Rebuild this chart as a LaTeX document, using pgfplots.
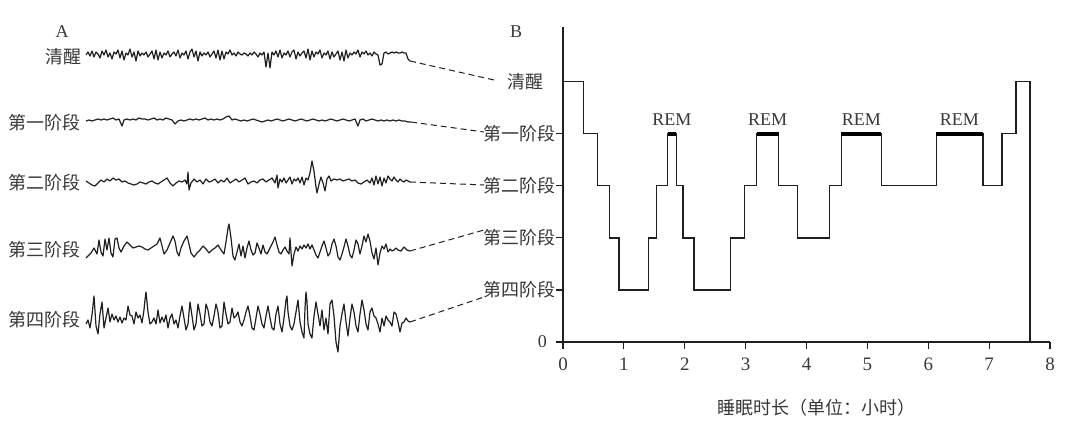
\documentclass[border=0pt]{standalone}
\usepackage{pgfplots}
\pgfplotsset{compat=1.18}
\usepackage{pgfplotstable}
\usepackage{fontspec}
\setmainfont{Liberation Serif}
\newfontfamily\cjk{Noto Sans CJK SC}
\definecolor{ink}{gray}{0.12}
\definecolor{txt}{gray}{0.22}

% EEG traces: x in pixels, v = upward offset in pixels from the trace baseline
\pgfplotstableread[row sep=\\]{x v\\
86 0\\88 3\\90 -1\\92 4\\94 -2\\96 3\\98 1\\100 -3\\102 4\\104 0\\106 5\\108 -2\\110 2\\112 -4\\114 3\\116 1\\118 5\\120 -3\\122 4\\124 -5\\126 2\\128 0\\130 6\\132 -2\\134 3\\136 -6\\138 4\\140 -1\\142 2\\144 0\\146 3\\148 -2\\150 1\\152 4\\154 -4\\156 5\\158 -5\\160 3\\162 -3\\164 2\\166 0\\168 4\\170 -2\\172 1\\174 3\\176 -1\\178 5\\180 -3\\182 2\\184 0\\186 4\\188 -4\\190 3\\192 6\\194 -2\\196 4\\198 -6\\200 3\\202 -1\\204 2\\206 0\\208 3\\210 -2\\212 1\\214 4\\216 -3\\218 5\\220 -5\\222 4\\224 -4\\226 3\\228 1\\230 5\\232 0\\234 2\\236 -1\\238 3\\240 1\\242 0\\244 2\\246 1\\248 -1\\250 2\\252 0\\254 3\\256 1\\258 -2\\260 2\\262 0\\264 3\\266 -12\\268 2\\270 -13\\272 3\\274 0\\276 4\\278 -2\\280 5\\282 -3\\284 2\\286 0\\288 4\\290 -2\\292 3\\294 5\\296 -4\\298 3\\300 -1\\302 2\\304 4\\306 -3\\308 6\\310 -5\\312 4\\314 -2\\316 3\\318 1\\320 5\\322 -3\\324 2\\326 0\\328 4\\330 -4\\332 3\\334 -2\\336 1\\338 4\\340 -5\\342 3\\344 -6\\346 5\\348 -3\\350 2\\352 0\\354 3\\356 1\\358 5\\360 -2\\362 3\\364 1\\366 4\\368 0\\370 2\\372 -1\\374 3\\376 1\\378 0\\380 -10\\382 -9\\384 2\\386 3\\388 1\\390 2\\392 3\\394 2\\396 3\\398 2\\400 2\\402 3\\404 2\\406 2\\408 -4\\410 -6\\
}\wake

\pgfplotstableread[row sep=\\]{x v\\
86 0\\89 1\\92 0\\95 1\\98 2\\101 1\\104 2\\107 1\\110 2\\113 3\\116 1\\119 2\\122 -5\\124 1\\127 2\\130 1\\133 2\\136 1\\139 3\\142 2\\145 2\\148 1\\151 2\\154 3\\157 1\\160 2\\163 1\\166 3\\169 2\\172 1\\175 -3\\178 0\\181 1\\184 0\\187 1\\190 2\\193 1\\196 2\\199 1\\202 2\\205 3\\208 1\\211 2\\214 1\\217 2\\220 1\\223 2\\226 4\\229 5\\232 1\\235 2\\238 1\\241 0\\244 1\\247 0\\250 1\\253 2\\256 1\\259 0\\262 -1\\265 0\\268 1\\271 0\\274 1\\277 2\\280 1\\283 0\\286 1\\289 2\\292 1\\295 0\\298 1\\301 2\\304 1\\307 0\\310 1\\313 2\\316 1\\319 0\\322 1\\325 0\\328 1\\331 2\\334 1\\337 0\\340 1\\343 2\\346 1\\349 0\\352 1\\355 2\\358 -5\\360 1\\363 2\\366 0\\369 1\\372 2\\375 1\\378 0\\381 1\\384 0\\387 1\\390 0\\393 1\\396 0\\399 1\\402 0\\405 0\\408 -1\\411 -1\\
}\stageone

\pgfplotstableread[row sep=\\]{x v\\
86 0\\89 -2\\92 -4\\95 -5\\98 -2\\101 1\\104 -1\\107 2\\110 0\\113 3\\116 1\\119 2\\122 -1\\125 0\\128 -2\\131 -3\\134 -4\\137 -3\\140 -1\\143 -2\\146 -3\\149 -1\\152 0\\155 -2\\158 -3\\161 -1\\164 1\\167 3\\170 -2\\173 -5\\176 -2\\179 0\\182 -1\\185 1\\187 -3\\188 9\\189 -9\\191 -2\\194 2\\197 -1\\200 1\\203 -3\\206 2\\209 -1\\212 0\\215 2\\218 -2\\221 1\\224 -1\\227 3\\230 -2\\233 0\\236 2\\239 -1\\242 1\\245 3\\248 -3\\251 -1\\254 0\\257 -2\\260 1\\263 2\\266 -1\\269 1\\272 3\\275 -2\\277 6\\278 -7\\280 2\\282 -1\\284 3\\286 -2\\288 1\\290 4\\292 -3\\294 2\\296 0\\298 3\\300 -2\\302 4\\304 -4\\306 3\\308 1\\310 8\\312 20\\314 10\\316 -6\\317 -12\\319 -3\\321 4\\323 -2\\325 -10\\327 2\\329 5\\331 0\\334 2\\337 1\\340 2\\343 0\\346 1\\349 2\\352 0\\355 1\\358 -2\\361 -3\\364 -1\\367 1\\370 -2\\372 3\\374 -4\\376 5\\378 -3\\380 4\\382 -5\\384 3\\386 -2\\388 5\\390 2\\392 0\\394 4\\396 1\\398 -1\\400 2\\402 0\\404 -1\\406 1\\408 0\\410 -1\\
}\stagetwo

\pgfplotstableread[row sep=\\]{x v\\
86 -8\\88 -6\\91 -3\\94 2\\97 -4\\99 10\\101 -2\\103 -6\\105 11\\107 0\\109 12\\111 -3\\113 -7\\115 11\\117 12\\119 2\\121 -2\\124 4\\127 8\\130 5\\133 2\\136 3\\139 4\\142 3\\145 1\\148 0\\151 2\\154 4\\157 6\\160 12\\162 4\\164 -4\\167 0\\170 7\\173 14\\175 9\\177 -2\\179 -6\\181 2\\184 9\\187 14\\189 6\\191 -3\\194 -7\\197 -3\\200 0\\203 4\\206 1\\209 -3\\212 0\\215 2\\218 5\\221 0\\224 -4\\226 8\\228 22\\229 26\\231 12\\233 -6\\235 -10\\237 -2\\239 6\\241 -6\\243 4\\245 -8\\247 2\\249 9\\251 0\\253 -5\\255 -3\\257 7\\259 2\\261 -4\\263 5\\265 -2\\267 -4\\270 2\\273 8\\275 13\\277 5\\279 -2\\281 -4\\283 0\\285 3\\287 -1\\289 -4\\290 12\\291 -2\\292 -16\\294 -4\\296 3\\298 -1\\300 4\\302 1\\304 5\\306 2\\308 6\\310 1\\312 5\\314 0\\316 -5\\318 -8\\320 -2\\322 4\\324 9\\326 2\\328 -6\\330 -3\\332 6\\334 11\\336 4\\338 -7\\340 -10\\342 -4\\344 3\\346 11\\348 4\\350 -5\\352 -8\\354 0\\356 10\\358 6\\360 -4\\362 4\\364 14\\366 8\\368 16\\370 9\\372 -3\\374 -9\\376 2\\378 -15\\380 -3\\382 4\\384 1\\386 6\\388 -2\\390 1\\392 -1\\394 0\\396 2\\398 0\\401 -1\\404 3\\407 0\\410 -1\\
}\stagethree

\pgfplotstableread[row sep=\\]{x v\\
86 -4\\88 0\\90 -8\\92 5\\94 24\\96 -6\\98 -14\\100 6\\102 18\\104 -8\\106 2\\108 12\\110 -2\\112 6\\114 0\\116 4\\118 -2\\120 3\\122 -3\\124 2\\126 0\\128 14\\130 5\\132 4\\134 -4\\136 8\\138 2\\140 5\\142 -3\\144 10\\145 20\\146 28\\148 8\\150 -4\\152 -2\\154 2\\156 -4\\158 10\\160 -3\\162 3\\164 -2\\166 5\\168 -8\\170 2\\172 6\\174 -4\\176 0\\178 -8\\180 4\\182 14\\184 2\\186 -10\\188 -4\\190 18\\192 4\\194 -10\\196 -4\\198 16\\200 6\\202 -6\\204 -4\\206 16\\208 10\\210 -2\\212 -6\\214 4\\216 16\\218 8\\220 -8\\222 -6\\224 18\\226 6\\228 -4\\230 -2\\232 12\\234 2\\236 4\\238 8\\240 -2\\242 -6\\244 0\\246 8\\248 14\\250 4\\252 -8\\254 -10\\256 2\\258 14\\260 6\\262 -4\\264 -8\\266 4\\268 14\\270 2\\272 -8\\274 -10\\276 6\\278 14\\280 -4\\282 -12\\284 2\\286 20\\287 24\\288 8\\290 -6\\292 -10\\294 -4\\296 8\\298 20\\300 -2\\302 -12\\304 -18\\305 12\\306 28\\307 18\\308 -4\\310 -14\\312 -18\\314 4\\316 18\\318 6\\320 -6\\322 10\\324 -10\\326 2\\328 -14\\330 16\\332 20\\334 4\\336 -22\\338 -32\\340 -6\\342 6\\344 16\\346 -2\\348 -16\\350 2\\352 16\\354 8\\356 -6\\358 -12\\360 6\\362 20\\364 10\\366 -4\\368 -10\\370 8\\372 12\\374 4\\376 2\\378 -4\\380 -12\\382 2\\384 -6\\386 4\\388 0\\390 -2\\392 -6\\394 8\\396 6\\398 -2\\400 -12\\402 -3\\404 -2\\406 2\\408 -1\\410 -2\\
}\stagefour

\pgfplotsset{
  eeg/.style={ink, line width=0.6pt, line join=round},
  link/.style={ink, line width=0.5pt, dash pattern=on 3pt off 2pt},
}

\begin{document}
\begin{tikzpicture}[font=\fontsize{9}{11}\selectfont]
% ---------- Panel A (pixel-coordinate frame) ----------
\begin{axis}[name=frame, at={(0,0)}, anchor=south west,
  width=540pt, height=211pt, scale only axis,
  xmin=0, xmax=1080, ymin=0, ymax=422, y dir=reverse,
  hide axis, clip=false]
\addplot[eeg] table[x=x, y expr=55-\thisrow{v}] {\wake};
\addplot[eeg] table[x=x, y expr=121-\thisrow{v}] {\stageone};
\addplot[eeg] table[x=x, y expr=181-\thisrow{v}] {\stagetwo};
\addplot[eeg] table[x=x, y expr=250-\thisrow{v}] {\stagethree};
\addplot[eeg] table[x=x, y expr=320-\thisrow{v}] {\stagefour};
\addplot[link] coordinates {(410,61) (494,80)};
\addplot[link] coordinates {(411,122) (484,132)};
\addplot[link] coordinates {(410,182) (484,185)};
\addplot[link] coordinates {(410,251) (484,230)};
\addplot[link] coordinates {(410,322) (484,297)};
\node[txt] at (axis cs:62,32) {A};
\node[txt] at (axis cs:516,32) {B};
\node[txt, anchor=east, inner sep=0pt] at (axis cs:82,57) {\cjk 清醒};
\node[txt, anchor=east, inner sep=0pt] at (axis cs:81,122.5) {\cjk 第一阶段};
\node[txt, anchor=east, inner sep=0pt] at (axis cs:81,183) {\cjk 第二阶段};
\node[txt, anchor=east, inner sep=0pt] at (axis cs:81,250) {\cjk 第三阶段};
\node[txt, anchor=east, inner sep=0pt] at (axis cs:81,320) {\cjk 第四阶段};
\end{axis}
% ---------- Panel B ----------
\begin{axis}[at={(281.5pt,40pt)}, anchor=south west,
  width=243.5pt, height=157.5pt, scale only axis,
  xmin=0, xmax=8, ymin=0, ymax=6.05,
  axis lines=left, axis line style={-, ink, line width=0.6pt},
  tick style={ink, line width=0.6pt},
  tick align=outside, major tick length=3.5pt,
  xtick={0,1,2,3,4,5,6,7,8},
  ytick={0,1,2,3,4},
  yticklabels={0\kern4.5pt,{\cjk 第四阶段},{\cjk 第三阶段},{\cjk 第二阶段},{\cjk 第一阶段}},
  extra y ticks={5},
  extra y tick labels={{\cjk 清醒}},
  extra y tick style={major tick length=0pt, yticklabel style={xshift=-9.5pt}},
  /pgf/number format/assume math mode=true,
  tick label style={txt},
  xticklabel style={yshift=-1pt, font=\fontsize{9.5}{11}\selectfont},
  yticklabel style={xshift=3.5pt},
  xlabel={\cjk 睡眠时长（单位：小时）},
  xlabel style={txt, at={(axis description cs:0.5,0)}, anchor=center, yshift=-33pt, xshift=5pt},
  clip=false]
\addplot[ink, line width=0.65pt, const plot] coordinates {
  (0,5) (0.34,4) (0.57,3) (0.76,2) (0.92,1) (1.40,2) (1.54,3) (1.72,4)
  (1.86,3) (1.97,2) (2.15,1) (2.75,2) (2.98,3) (3.18,4) (3.54,3) (3.85,2)
  (4.38,3) (4.57,4) (5.23,3) (6.13,4) (6.90,3) (7.21,4) (7.44,5) (7.67,0)};
\addplot[black, line width=2pt] coordinates {(1.72,4) (1.86,4)};
\addplot[black, line width=2pt] coordinates {(3.18,4) (3.54,4)};
\addplot[black, line width=2pt] coordinates {(4.57,4) (5.23,4)};
\addplot[black, line width=2pt] coordinates {(6.13,4) (6.90,4)};
\node[txt] at (axis cs:1.79,4.28) {REM};
\node[txt] at (axis cs:3.36,4.28) {REM};
\node[txt] at (axis cs:4.90,4.28) {REM};
\node[txt] at (axis cs:6.51,4.28) {REM};
\end{axis}
\pgfresetboundingbox
\path (frame.south west) rectangle (frame.north east);
\end{tikzpicture}
\end{document}
